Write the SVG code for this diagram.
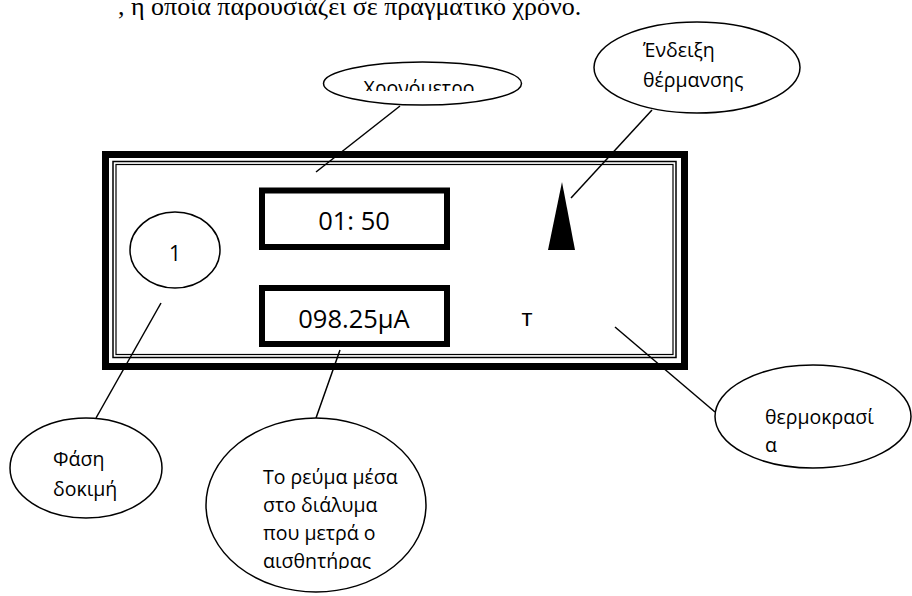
<svg xmlns="http://www.w3.org/2000/svg" width="912" height="596" viewBox="0 0 912 596">
  <defs>
    <style>
      .bubble { fill: #fff; stroke: #000; stroke-width: 1.5; }
      .lbl { font-family: "Open Sans", "Noto Sans", sans-serif; font-size: 19.5px; fill: #000; }
      .disp { font-family: "Open Sans", "Noto Sans", sans-serif; font-size: 25.5px; fill: #000; }
      .conn { stroke: #000; stroke-width: 1.5; fill: none; }
      .box { fill: #fff; stroke: #000; stroke-width: 6; }
    </style>
    <clipPath id="clipChrono"><rect x="300" y="40" width="250" height="51"/></clipPath>
    <clipPath id="clipCur"><rect x="200" y="400" width="240" height="169"/></clipPath>
  </defs>
  <rect width="912" height="596" fill="#fff"/>

  <text x="118" y="14.5" font-family="Liberation Serif, serif" font-size="26" fill="#000">, η οποία παρουσιάζει σε πραγματικό χρόνο.</text>

  <g id="panel">
    <rect x="105.5" y="154.5" width="579" height="212" fill="#fff" stroke="#000" stroke-width="7"/>
    <rect x="113" y="161.5" width="563" height="196" fill="none" stroke="#000" stroke-width="1.5"/>
    <rect x="116" y="164.5" width="557" height="190" fill="none" stroke="#000" stroke-width="1.2"/>
  </g>

  <g id="timer-display">
    <rect class="box" x="262" y="190.5" width="185" height="56.5"/>
    <text class="disp" x="354" y="230" text-anchor="middle">01: 50</text>
  </g>

  <g id="current-display">
    <rect class="box" x="262" y="288" width="185" height="56"/>
    <text class="disp" x="354" y="328" text-anchor="middle">098.25μA</text>
  </g>

  <g id="phase-indicator">
    <ellipse class="bubble" cx="175" cy="250" rx="45" ry="38"/>
    <text class="disp" x="175" y="261" text-anchor="middle" style="font-size:21px">1</text>
  </g>

  <g id="heating-indicator">
    <polygon points="562,182 548,250 575,250" fill="#000"/>
  </g>

  <g id="temp-indicator">
    <text x="527" y="326" font-family="Liberation Sans, Arial, sans-serif" font-size="24" text-anchor="middle" fill="#000">т</text>
  </g>

  <g id="connectors">
    <line class="conn" x1="400" y1="106" x2="316" y2="172"/>
    <line class="conn" x1="571" y1="198" x2="652" y2="110"/>
    <line class="conn" x1="161" y1="303" x2="96" y2="418"/>
    <line class="conn" x1="340" y1="350" x2="316" y2="418"/>
    <line class="conn" x1="615" y1="327" x2="715" y2="412"/>
  </g>

  <g id="label-timer">
    <ellipse class="bubble" cx="422.5" cy="83.5" rx="99" ry="21.5"/>
    <text class="lbl" x="419" y="95" text-anchor="middle" clip-path="url(#clipChrono)">Χρονόμετρο</text>
  </g>

  <g id="label-heating">
    <ellipse class="bubble" cx="697" cy="67.5" rx="103" ry="45.5"/>
    <text class="lbl" x="643" y="57">Ένδειξη</text>
    <text class="lbl" x="643" y="87">θέρμανσης</text>
  </g>

  <g id="label-phase">
    <ellipse class="bubble" cx="86" cy="468" rx="76" ry="50"/>
    <text class="lbl" x="53" y="466">Φάση</text>
    <text class="lbl" x="53" y="496">δοκιμή</text>
  </g>

  <g id="label-current">
    <ellipse class="bubble" cx="316" cy="505" rx="110" ry="87"/>
    <g clip-path="url(#clipCur)">
      <text class="lbl" x="263" y="484">Το ρεύμα μέσα</text>
      <text class="lbl" x="263" y="512">στο διάλυμα</text>
      <text class="lbl" x="263" y="540">που μετρά ο</text>
      <text class="lbl" x="263" y="568">αισθητήρας</text>
    </g>
  </g>

  <g id="label-temperature">
    <ellipse class="bubble" cx="813" cy="416.5" rx="98" ry="51.5"/>
    <text class="lbl" x="765" y="424">θερμοκρασί</text>
    <text class="lbl" x="765" y="452">α</text>
  </g>
</svg>
